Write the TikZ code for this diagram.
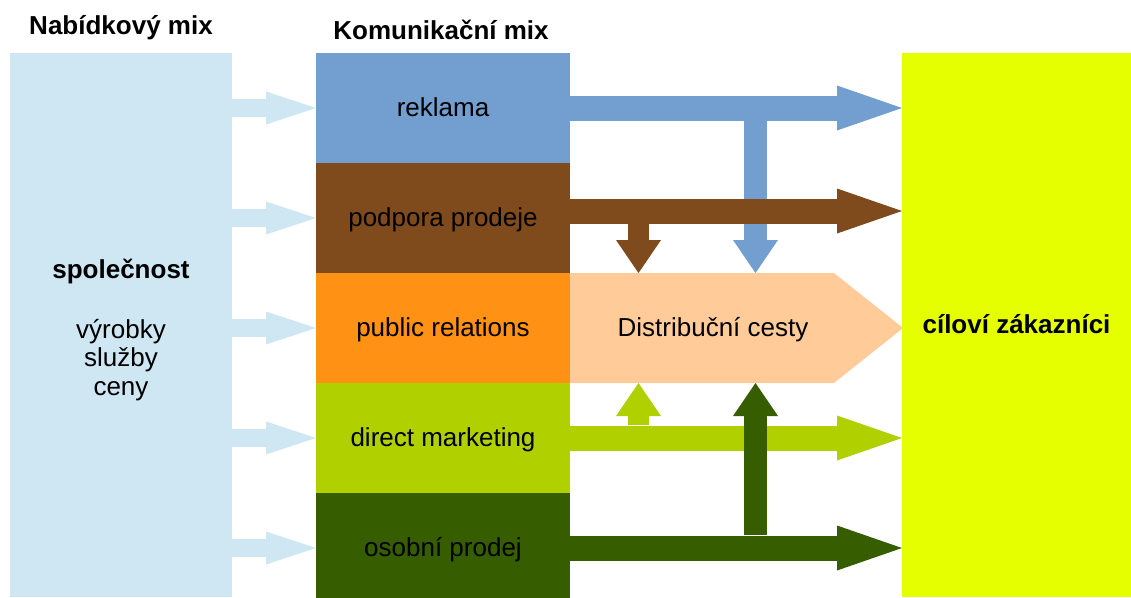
\documentclass[tikz,border=0pt]{standalone}
\usepackage{fontspec}
\setmainfont{Liberation Sans}
\usetikzlibrary{positioning,arrows.meta,shapes.arrows}

\definecolor{mixlight}{HTML}{CFE6F3}
\definecolor{mixblue}{HTML}{729FCF}
\definecolor{mixbrown}{HTML}{7F4B1C}
\definecolor{mixorange}{HTML}{FF9114}
\definecolor{mixlime}{HTML}{B0D000}
\definecolor{mixdark}{HTML}{365E00}
\definecolor{mixpeach}{HTML}{FFCC99}
\definecolor{mixyellow}{HTML}{E5FF00}

\begin{document}
\begin{tikzpicture}[
    x=1pt, y=-1pt,
    every node/.style={font=\fontsize{26}{28.5}\selectfont},
    title/.style={font=\fontsize{26}{28.5}\selectfont\bfseries},
    mixbox/.style={
        rectangle,
        minimum width=254pt,
        minimum height=110pt,
        inner sep=0pt,
        outer sep=0pt,
        text depth=2pt,
        fill=#1
    },
    sidebox/.style={
        rectangle,
        minimum height=544pt,
        inner sep=0pt,
        outer sep=0pt,
        align=center,
        fill=#1
    },
    inarrow/.style={draw=mixlight, line width=18pt, -{Triangle[length=50pt, width=33pt, line width=0pt]}},
    outarrow/.style={draw=#1, line width=25pt, -{Triangle[length=65pt, width=45pt, line width=0pt]}},
    vertarrow/.style={draw=#1, line width=23pt, -{Triangle[length=33pt, width=45pt, line width=0pt]}}
]
\useasboundingbox (0,0) rectangle (1131,597);
\clip (0,0) rectangle (1131,597);

% boxes
\node[sidebox=mixlight, minimum width=222pt,
      label={[align=center, yshift=-5pt]center:\textbf{společnost}\\[31pt] výrobky\\ služby\\ ceny}] (spol) at (121,325) {};
\node[sidebox=mixyellow, minimum width=229pt, text depth=2pt, font=\fontsize{26}{28.5}\selectfont\bfseries] (kunde) at (1016.5,325) {cíloví zákazníci};

\node[mixbox=mixblue] (reklama) at (443,108) {reklama};
\node[mixbox=mixbrown, below=0pt of reklama] (podpora) {podpora prodeje};
\node[mixbox=mixorange, below=0pt of podpora] (publ) {public relations};
\node[mixbox=mixlime, below=0pt of publ] (direct) {direct marketing};
\node[mixbox=mixdark, below=0pt of direct] (osobni) {osobní prodej};

\node[title] (nabtitle) at (121,28) {Nabídkový mix};
\node[title] (komtitle) at (441,30) {Komunikační mix};

\node[single arrow, single arrow head extend=0pt, single arrow tip angle=77,
      minimum height=333pt, minimum width=110pt, inner sep=0pt, fill=mixpeach,
      label={[xshift=11pt, yshift=-2pt]center:Distribuční cesty}] (distr) at (702,328) {};

% arrows into the mix
\foreach \b in {reklama,podpora,publ,direct,osobni}
    \draw[inarrow] (\b.west -| spol.east) -- (\b.west);

% arrows to the customers
\coordinate (rkdown) at (755.5,120);
\coordinate (ppdown) at (638.5,223);
\coordinate (dmup) at (638.5,425);
\coordinate (opup) at (755.5,535);

\draw[outarrow=mixblue] (reklama.east) -- (reklama.east -| kunde.west);
\draw[vertarrow=mixblue] (rkdown) -- (rkdown |- publ.north);
\draw[outarrow=mixbrown] ([yshift=7pt]podpora.east) -- ([yshift=7pt]podpora.east -| kunde.west);
\draw[vertarrow=mixbrown, line width=21pt] (ppdown) -- (ppdown |- publ.north);

\draw[outarrow=mixlime] (direct.east) -- (direct.east -| kunde.west);
\draw[vertarrow=mixlime, line width=21pt] (dmup) -- (dmup |- publ.south);
\draw[outarrow=mixdark] (osobni.east) -- (osobni.east -| kunde.west);
\draw[vertarrow=mixdark] (opup) -- (opup |- publ.south);

\end{tikzpicture}
\end{document}
